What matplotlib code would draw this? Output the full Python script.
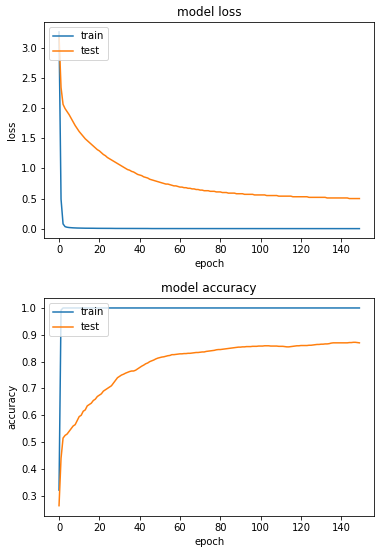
"""Training history: model loss and accuracy per epoch (train vs test)."""
import matplotlib
matplotlib.use("Agg")
import matplotlib.pyplot as plt

# values, one per epoch (150 epochs)
train_loss = [
    3.26, 0.49, 0.08, 0.035, 0.025, 0.020, 0.017, 0.015, 0.013, 0.012,
    0.011, 0.010, 0.010, 0.009, 0.009, 0.008, 0.008, 0.008, 0.007, 0.007,
    0.007, 0.007, 0.006, 0.006, 0.006, 0.006, 0.006, 0.005, 0.005, 0.005,
    0.005, 0.005, 0.005, 0.005, 0.004, 0.004, 0.004, 0.004, 0.004, 0.004,
    0.004, 0.004, 0.004, 0.004, 0.004, 0.003, 0.003, 0.003, 0.003, 0.003,
    0.003, 0.003, 0.003, 0.003, 0.003, 0.003, 0.003, 0.003, 0.003, 0.003,
    0.003, 0.003, 0.003, 0.003, 0.003, 0.003, 0.003, 0.003, 0.002, 0.002,
    0.002, 0.002, 0.002, 0.002, 0.002, 0.002, 0.002, 0.002, 0.002, 0.002,
    0.002, 0.002, 0.002, 0.002, 0.002, 0.002, 0.002, 0.002, 0.002, 0.002,
    0.002, 0.002, 0.002, 0.002, 0.002, 0.002, 0.002, 0.002, 0.002, 0.002,
    0.002, 0.002, 0.002, 0.002, 0.002, 0.002, 0.002, 0.002, 0.002, 0.002,
    0.002, 0.002, 0.002, 0.002, 0.002, 0.002, 0.002, 0.002, 0.002, 0.002,
    0.002, 0.002, 0.002, 0.002, 0.002, 0.002, 0.002, 0.002, 0.002, 0.002,
    0.002, 0.002, 0.002, 0.002, 0.002, 0.002, 0.002, 0.002, 0.002, 0.002,
    0.002, 0.002, 0.002, 0.002, 0.002, 0.002, 0.002, 0.002, 0.002, 0.002,
]
test_loss = [
    3.20, 2.34, 2.06, 1.99, 1.94, 1.89, 1.83, 1.77, 1.71, 1.66,
    1.61, 1.57, 1.53, 1.49, 1.46, 1.43, 1.40, 1.37, 1.34, 1.31,
    1.29, 1.26, 1.23, 1.21, 1.18, 1.16, 1.14, 1.12, 1.10, 1.08,
    1.06, 1.04, 1.02, 1.00, 0.98, 0.97, 0.95, 0.94, 0.92, 0.90,
    0.89, 0.88, 0.86, 0.85, 0.84, 0.82, 0.81, 0.80, 0.79, 0.78,
    0.77, 0.76, 0.75, 0.74, 0.74, 0.73, 0.72, 0.71, 0.71, 0.70,
    0.69, 0.69, 0.68, 0.68, 0.67, 0.67, 0.66, 0.66, 0.65, 0.65,
    0.64, 0.64, 0.63, 0.63, 0.63, 0.62, 0.62, 0.62, 0.61, 0.61,
    0.61, 0.60, 0.60, 0.60, 0.59, 0.59, 0.59, 0.59, 0.58, 0.58,
    0.58, 0.58, 0.57, 0.57, 0.57, 0.57, 0.57, 0.56, 0.56, 0.56,
    0.56, 0.56, 0.56, 0.55, 0.55, 0.55, 0.55, 0.55, 0.55, 0.54,
    0.54, 0.54, 0.54, 0.54, 0.54, 0.54, 0.53, 0.53, 0.53, 0.53,
    0.53, 0.53, 0.53, 0.53, 0.52, 0.52, 0.52, 0.52, 0.52, 0.52,
    0.52, 0.52, 0.52, 0.51, 0.51, 0.51, 0.51, 0.51, 0.51, 0.51,
    0.51, 0.51, 0.51, 0.51, 0.50, 0.50, 0.50, 0.50, 0.50, 0.50,
]
train_acc = [0.321, 0.992] + [1.0] * 148
test_acc = [
    0.263, 0.440, 0.515, 0.525, 0.530, 0.540, 0.550, 0.560, 0.565, 0.580,
    0.595, 0.600, 0.615, 0.620, 0.635, 0.640, 0.645, 0.655, 0.660, 0.670,
    0.675, 0.680, 0.690, 0.695, 0.700, 0.705, 0.710, 0.720, 0.730, 0.740,
    0.745, 0.750, 0.753, 0.757, 0.760, 0.763, 0.765, 0.765, 0.768, 0.773,
    0.778, 0.783, 0.787, 0.792, 0.795, 0.800, 0.803, 0.806, 0.810, 0.813,
    0.815, 0.817, 0.818, 0.820, 0.822, 0.823, 0.826, 0.826, 0.827, 0.828,
    0.829, 0.829, 0.830, 0.830, 0.831, 0.831, 0.832, 0.833, 0.834, 0.834,
    0.835, 0.836, 0.836, 0.838, 0.839, 0.840, 0.841, 0.842, 0.844, 0.845,
    0.845, 0.846, 0.847, 0.848, 0.849, 0.850, 0.851, 0.852, 0.853, 0.854,
    0.854, 0.855, 0.855, 0.856, 0.856, 0.856, 0.857, 0.857, 0.857, 0.858,
    0.858, 0.858, 0.859, 0.859, 0.859, 0.858, 0.858, 0.858, 0.858, 0.857,
    0.857, 0.857, 0.856, 0.855, 0.855, 0.856, 0.857, 0.858, 0.859, 0.859,
    0.860, 0.860, 0.860, 0.860, 0.861, 0.861, 0.862, 0.863, 0.864, 0.864,
    0.865, 0.865, 0.866, 0.866, 0.867, 0.869, 0.870, 0.870, 0.870, 0.870,
    0.870, 0.870, 0.870, 0.870, 0.871, 0.871, 0.872, 0.872, 0.871, 0.870,
]
epochs = list(range(len(test_loss)))

fig = plt.figure(figsize=(386 / 72, 552 / 72), dpi=72)
ax1 = fig.add_axes([0.114, 0.568, 0.856, 0.392])
ax2 = fig.add_axes([0.114, 0.066, 0.856, 0.394])

ax1.plot(epochs, train_loss, label="train")
ax1.plot(epochs, test_loss, label="test")
ax1.set_title("model loss")
ax1.set_ylabel("loss")
ax1.set_xlabel("epoch")
ax1.legend(loc="upper left")

ax2.plot(epochs, train_acc, label="train")
ax2.plot(epochs, test_acc, label="test")
ax2.set_title("model accuracy")
ax2.set_ylabel("accuracy")
ax2.set_xlabel("epoch")
ax2.legend(loc="upper left")

fig.savefig("out.png", dpi=72)
